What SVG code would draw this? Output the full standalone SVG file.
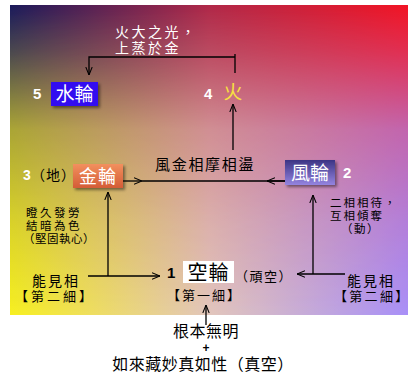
<svg xmlns="http://www.w3.org/2000/svg" width="417" height="379" viewBox="0 0 417 379">
<defs>
<linearGradient id="gTop" x1="0" y1="0" x2="1" y2="0">
<stop offset="0" stop-color="#1a1a5c"/>
<stop offset="0.5" stop-color="#b02848"/>
<stop offset="1" stop-color="#f21424"/>
</linearGradient>
<linearGradient id="gBot" x1="0" y1="0" x2="1" y2="0">
<stop offset="0" stop-color="#f8f020"/>
<stop offset="0.5" stop-color="#e2c6bc"/>
<stop offset="1" stop-color="#a890f8"/>
</linearGradient>
<linearGradient id="gMask" x1="0" y1="0" x2="0" y2="1">
<stop offset="0" stop-color="#fff" stop-opacity="0"/>
<stop offset="0.15" stop-color="#fff" stop-opacity="0.22"/>
<stop offset="0.4" stop-color="#fff" stop-opacity="0.65"/>
<stop offset="0.7" stop-color="#fff" stop-opacity="0.86"/>
<stop offset="1" stop-color="#fff" stop-opacity="1"/>
</linearGradient>
<mask id="m" maskUnits="userSpaceOnUse" x="10" y="5" width="398" height="310">
<rect x="10" y="5" width="398" height="310" fill="url(#gMask)"/>
</mask>
<linearGradient id="gGold" x1="0" y1="0" x2="0" y2="1">
<stop offset="0" stop-color="#f2905e"/>
<stop offset="1" stop-color="#d45c36"/>
</linearGradient>
<linearGradient id="gWind" x1="0" y1="0" x2="0" y2="1">
<stop offset="0" stop-color="#3c3484"/>
<stop offset="1" stop-color="#9484e0"/>
</linearGradient>
<filter id="sh" x="-20%" y="-20%" width="150%" height="160%">
<feDropShadow dx="2" dy="2" stdDeviation="1.5" flood-color="#000" flood-opacity="0.45"/>
</filter>
<marker id="ah" viewBox="0 0 10 10" refX="10" refY="5" markerWidth="8" markerHeight="8" orient="auto" markerUnits="userSpaceOnUse">
<path d="M0,1 L10,5 L0,9" fill="none" stroke="#000" stroke-width="1.3"/>
</marker>
</defs>
<style>
.cjk{font-family:"Liberation Sans","Noto Sans CJK TC","Noto Sans CJK SC",sans-serif}
.num{font-family:"Liberation Sans",Arial,sans-serif;font-weight:bold}
.ln{fill:none;stroke:#000;stroke-width:1.3}
.w{fill:#fff}
.k{fill:#000}
</style>
<g id="background">
<rect x="10" y="5" width="398" height="310" fill="url(#gTop)"/>
<rect x="10" y="5" width="398" height="310" fill="url(#gBot)" mask="url(#m)"/>
</g>
<g id="connectors">
<path class="ln" d="M235,54 L235,73 M235,57 L89,57 L89,75" marker-end="url(#ah)"/>
<path class="ln" d="M233,150 L233,104" marker-end="url(#ah)"/>
<path class="ln" d="M123,181 L142,181" marker-end="url(#ah)"/>
<path class="ln" d="M142,181 L285,181"/>
<path class="ln" d="M285,181 L267,181" marker-end="url(#ah)"/>
<path class="ln" d="M88,276 L160,276" marker-end="url(#ah)"/>
<path class="ln" d="M108,276 L108,192" marker-end="url(#ah)"/>
<path class="ln" d="M345,274 L297,274" marker-end="url(#ah)"/>
<path class="ln" d="M313,274 L313,195" marker-end="url(#ah)"/>
<path class="ln" d="M206,325 L206,305" marker-end="url(#ah)"/>
</g>
<g id="label-fire-light">
<text class="cjk w" x="115" y="37" font-size="14" letter-spacing="2.5">火大之光，</text>
<text class="cjk w" x="115" y="53" font-size="14" letter-spacing="2.5">上蒸於金</text>
</g>
<g id="node-water">
<text class="num w" x="33" y="99" font-size="15">5</text>
<rect x="51" y="82" width="47" height="24" fill="#3010f0" filter="url(#sh)"/>
<text class="cjk w" x="74.5" y="101" font-size="19" text-anchor="middle">水輪</text>
</g>
<g id="node-fire">
<text class="num w" x="204" y="99" font-size="15">4</text>
<text class="cjk" x="233" y="99" font-size="19" fill="#f8e040" text-anchor="middle">火</text>
</g>
<g id="label-friction">
<text class="cjk k" x="155" y="170" font-size="15" letter-spacing="1.7">風金相摩相盪</text>
</g>
<g id="node-metal">
<text class="num w" x="23" y="180" font-size="14">3</text>
<text class="cjk k" x="31" y="180" font-size="14" letter-spacing="1">（地）</text>
<rect x="73" y="164" width="50" height="24" fill="url(#gGold)" filter="url(#sh)"/>
<text class="cjk w" x="98" y="183" font-size="18" text-anchor="middle" letter-spacing="1">金輪</text>
</g>
<g id="node-wind">
<rect x="285" y="160" width="50" height="25" fill="url(#gWind)" filter="url(#sh)"/>
<text class="cjk w" x="310" y="180" font-size="19" text-anchor="middle">風輪</text>
<text class="num w" x="343" y="178" font-size="15">2</text>
</g>
<g id="label-left">
<text class="cjk k" x="26" y="217" font-size="11.5" letter-spacing="2.5">瞪久發勞</text>
<text class="cjk k" x="26" y="230" font-size="11.5" letter-spacing="2.5">結暗為色</text>
<text class="cjk k" x="23" y="243" font-size="11.5" letter-spacing="0.5">（堅固執心）</text>
</g>
<g id="label-right">
<text class="cjk k" x="330" y="207" font-size="11.5" letter-spacing="2">二相相待，</text>
<text class="cjk k" x="330" y="220" font-size="11.5" letter-spacing="2">互相傾奪</text>
<text class="cjk k" x="341" y="233" font-size="11.5" letter-spacing="1.5">（動）</text>
</g>
<g id="node-left-fine">
<text class="cjk k" x="32" y="286" font-size="14" letter-spacing="2">能見相</text>
<text class="cjk k" x="15" y="301" font-size="13" letter-spacing="3">【第二細】</text>
</g>
<g id="node-space">
<text class="num k" x="167" y="278" font-size="15">1</text>
<rect x="183" y="261" width="51" height="22" fill="#fff"/>
<text class="cjk k" x="208.5" y="280" font-size="20" text-anchor="middle" letter-spacing="1">空輪</text>
<text class="cjk k" x="235" y="281" font-size="13" letter-spacing="1.5">（頑空）</text>
<text class="cjk k" x="167" y="300" font-size="13" letter-spacing="2">【第一細】</text>
</g>
<g id="node-right-fine">
<text class="cjk k" x="347" y="286" font-size="14" letter-spacing="2">能見相</text>
<text class="cjk k" x="334" y="301" font-size="13" letter-spacing="2.3">【第二細】</text>
</g>
<g id="node-root">
<text class="cjk k" x="206" y="337" font-size="16" text-anchor="middle" letter-spacing="0.5">根本無明</text>
<text class="num k" x="206" y="352" font-size="12" text-anchor="middle">+</text>
<text class="cjk k" x="203" y="370" font-size="16" text-anchor="middle" letter-spacing="0.5">如來藏妙真如性（真空）</text>
</g>
</svg>
